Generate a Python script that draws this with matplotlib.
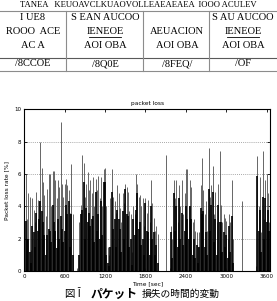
import matplotlib
matplotlib.use("Agg")
import matplotlib.pyplot as plt
import numpy as np

# packet loss per 20 s slot: highest value in the slot, and typical level
t_sec = np.arange(0, 3660, 20)
peak = [
    3.0, 6.0, 3.2, 4.8, 4.6, 1.3, 4.5, 3.8, 3.0, 4.9, 4.4, 4.3, 8.0, 6.4, 5.5, 4.7, 3.4, 5.1, 6.0, 6.0,
    4.0, 6.2, 6.2, 5.6, 4.5, 5.6, 5.2, 9.2, 5.4, 4.6, 5.4, 5.7, 5.3, 5.0, 3.6, 6.6, 3.5, 0.0, 0.0, 0.2,
    0.0, 3.0, 4.1, 7.2, 6.7, 4.6, 5.4, 6.1, 5.0, 5.6, 4.8, 5.8, 4.0, 5.7, 5.0, 5.9, 4.5, 5.8, 4.0, 6.3,
    6.4, 4.0, 1.5, 1.0, 4.5, 6.3, 4.6, 4.3, 3.6, 5.3, 4.8, 3.9, 3.0, 4.8, 4.2, 5.4, 5.2, 4.9, 3.7, 3.5,
    1.2, 4.0, 3.5, 6.0, 5.4, 4.6, 4.7, 4.0, 4.5, 2.8, 4.5, 3.6, 4.4, 3.0, 5.6, 4.2, 3.3, 2.5, 2.8, 2.3,
    0.0, 0.0, 0.0, 0.0, 0.0, 7.2, 0.0, 0.0, 0.2, 2.8, 2.0, 5.6, 4.5, 5.6, 3.0, 5.3, 4.0, 5.6, 3.5, 4.8,
    6.3, 6.3, 4.0, 5.6, 5.2, 3.0, 3.2, 2.5, 2.4, 1.5, 2.4, 5.3, 7.0, 5.0, 3.5, 4.3, 2.5, 7.6, 4.6, 5.3,
    6.5, 3.5, 4.9, 3.0, 5.4, 7.4, 4.1, 3.0, 3.5, 3.3, 3.1, 2.0, 3.5, 3.0, 5.6, 2.0, 0.0, 0.0, 0.0, 0.0,
    0.0, 0.0, 4.3, 0.0, 0.0, 0.0, 0.0, 0.0, 0.0, 0.0, 0.0, 0.0, 0.3, 7.1, 4.0, 5.8, 2.4, 7.4, 3.2, 5.6,
    6.0, 4.8, 3.0,
]
level = [
    2.5, 3.1, 2.0, 2.0, 1.2, 0.5, 2.8, 2.4, 1.5, 3.6, 2.5, 3.2, 4.3, 3.7, 3.0, 2.2, 1.0, 2.2, 2.6, 2.5,
    1.8, 4.1, 3.0, 2.5, 1.4, 3.2, 2.0, 3.4, 2.6, 1.8, 2.5, 4.1, 3.5, 4.3, 1.5, 3.5, 1.0, 0.0, 0.0, 0.0,
    0.0, 1.0, 3.5, 3.8, 5.5, 2.0, 3.9, 3.0, 3.6, 2.8, 3.2, 3.4, 1.8, 4.9, 2.5, 3.5, 2.0, 4.3, 2.2, 5.5,
    5.5, 1.0, 0.5, 0.3, 1.5, 4.9, 2.6, 3.2, 1.5, 3.8, 3.2, 2.6, 1.2, 3.7, 2.0, 5.1, 3.5, 3.4, 1.5, 2.0,
    0.4, 3.2, 2.2, 3.8, 4.8, 2.6, 3.0, 1.6, 2.0, 1.0, 4.2, 2.5, 2.4, 1.0, 4.0, 2.0, 2.4, 1.0, 1.6, 0.5,
    0.0, 0.0, 0.0, 0.0, 0.0, 0.0, 0.0, 0.0, 0.0, 2.4, 0.8, 4.8, 2.5, 4.0, 1.5, 4.5, 2.0, 3.6, 1.6, 2.5,
    4.0, 3.2, 2.0, 4.0, 3.2, 1.0, 2.0, 0.8, 1.6, 0.5, 1.5, 3.9, 3.5, 3.7, 1.5, 2.4, 1.0, 5.1, 2.5, 4.1,
    4.9, 1.8, 3.2, 1.0, 4.1, 3.0, 3.0, 1.2, 2.4, 1.5, 2.2, 0.8, 2.8, 1.2, 3.4, 0.5, 0.0, 0.0, 0.0, 0.0,
    0.0, 0.0, 0.0, 0.0, 0.0, 0.0, 0.0, 0.0, 0.0, 0.0, 0.0, 0.0, 0.0, 5.9, 2.5, 3.8, 1.2, 4.6, 2.0, 4.5,
    3.0, 3.8, 2.5,
]

xticks = [0, 600, 1200, 1800, 2400, 3000, 3600]
yticks = [0, 2, 4, 6, 8, 10]

# table above the chart (text as it shows in the picture)
col_edges = [66, 142.7, 209]
head_lines = [
    (33, ["I UE8", "ROOO  ACE", "AC A"]),
    (105, ["S EAN AUCOO", "IENEOE", "AOI OBA"]),
    (177, ["", "AEUACION", "AOI OBA"]),
    (243, ["S AU AUCOO", "IENEOE", "AOI OBA"]),
]
row_vals = ["/8CCOE", "/8Q0E", "/8FEQ/", "/OF"]
top_line = "TANEA   KEUOAVCLKUAOVOLLEAEAEAEA  IOOO ACULEV"

W, H = 277, 301
fig = plt.figure(figsize=(W / 100, H / 100), dpi=100)

# overlay in pixel coordinates for table and caption
ov = fig.add_axes([0, 0, 1, 1])
ov.set_xlim(0, W)
ov.set_ylim(H, 0)
ov.axis("off")

serif = "Liberation Serif"
ov.text(138, 5, top_line, ha="center", va="center", fontsize=6.2, family=serif)
ov.plot([0, W], [10.7, 10.7], color="0.55", lw=0.8)
ov.plot([0, W], [57.5, 57.5], color="0.35", lw=0.8)
ov.plot([0, W], [70.5, 70.5], color="0.55", lw=0.8)
for xe in col_edges:
    ov.plot([xe, xe], [10.7, 70.5], color="0.55", lw=0.8)
row_y = [17.5, 31, 45]
for cx, lines in head_lines:
    for yy, s in zip(row_y, lines):
        if s:
            ov.text(cx, yy, s, ha="center", va="center", fontsize=7.5, family=serif)
    if lines[1] == "IENEOE":
        ov.plot([cx - 16, cx + 16], [36.5, 36.5], color="black", lw=0.6)
for (cx, _), v in zip(head_lines, row_vals):
    ov.text(cx, 64, v, ha="center", va="center", fontsize=7.5, family=serif)

# caption
cjk = ["Noto Sans CJK JP", "DejaVu Sans"]
ov.text(65, 294, "図 Ĭ", ha="left", va="center", fontsize=7.5, family=cjk)
ov.text(91, 294, "パケット", ha="left", va="center", fontsize=8.5, family=cjk, weight="bold")
ov.text(142, 294, "損失の時間的変動", ha="left", va="center", fontsize=7, family=cjk)

# chart
ax = fig.add_axes([24.3 / W, 1 - 271 / H, (270 - 24.3) / W, (271 - 109.3) / H])
ax.vlines(t_sec, 0, peak, color="0.3", lw=0.6)
ax.vlines(t_sec, 0, level, color="black", lw=1.2)
ax.set_xlim(0, 3650)
ax.set_ylim(0, 10)
ax.set_xticks(xticks)
ax.set_yticks(yticks)
for yv in yticks[1:-1]:
    ax.axhline(yv, color="0.55", lw=0.6, linestyle=(0, (1, 1.5)), zorder=0)
ax.tick_params(direction="in", length=2, width=0.6, labelsize=4, pad=2,
               top=True, right=True)
for sp in ax.spines.values():
    sp.set_linewidth(0.8)
ax.set_title("packet loss", fontsize=4.2, pad=3)
ax.set_xlabel("Time [sec]", fontsize=4.2, labelpad=2)
ax.set_ylabel("Packet loss rate [%]", fontsize=4.2, labelpad=4)

fig.savefig("out.png", dpi=100)
